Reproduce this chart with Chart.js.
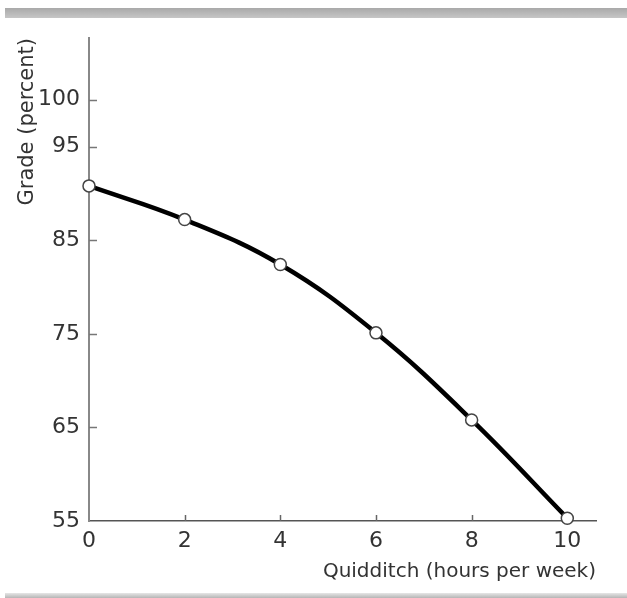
<!DOCTYPE html>
<html>
<head>
<meta charset="utf-8">
<script src="https://cdn.jsdelivr.net/npm/chart.js@4/dist/chart.umd.min.js"></script>
<style>
  body { margin: 0; background: #fff; }
  #wrap { position: relative; width: 627px; height: 598px; overflow: hidden; }
  #myChart { position: absolute; left: 0; top: 0; }
  .topBar { position: absolute; left: 5px; top: 8px; width: 622px; height: 10px;
    background: linear-gradient(#a9a9a9, #c6c6c6); }
  .bottomBar { position: absolute; left: 5px; top: 593px; width: 622px; height: 5px;
    background: linear-gradient(#e6e6e6, #b5b5b5); }
</style>
</head>
<body>
<div id="wrap">
  <canvas id="myChart" width="627" height="598"></canvas>
  <div class="topBar"></div>
  <div class="bottomBar"></div>
</div>
<script>
// the data
const hours = [0, 2, 4, 6, 8, 10]
const grades = [90.8, 87.2, 82.4, 75.1, 65.8, 55.3]
const xTicks = [0, 2, 4, 6, 8, 10]
const yTicks = [55, 65, 75, 85, 95, 100]

const fontName = '"DejaVu Sans", sans-serif'

// small tick marks that point inside the plot
const innerTicks = {
  id: 'innerTicks',
  beforeDatasetsDraw(chart) {
    const ctx = chart.ctx
    const x = chart.scales.x
    const y = chart.scales.y
    ctx.save()
    ctx.lineWidth = 1.5
    ctx.strokeStyle = '#777'
    yTicks.forEach(v => {
      if (v == 55) return
      let py = Math.round(y.getPixelForValue(v)) + 0.5
      ctx.beginPath()
      ctx.moveTo(x.left, py)
      ctx.lineTo(x.left + 8, py)
      ctx.stroke()
    })
    ctx.strokeStyle = '#666'
    xTicks.forEach(v => {
      if (v == 0) return
      let px = Math.round(x.getPixelForValue(v)) + 0.5
      ctx.beginPath()
      ctx.moveTo(px, y.bottom)
      ctx.lineTo(px, y.bottom - 6)
      ctx.stroke()
    })
    ctx.restore()
  }
}

new Chart('myChart', {
  type: 'line',
  data: {
    datasets: [{
      data: hours.map((h, i) => ({x: h, y: grades[i]})),
      borderColor: '#000',
      borderWidth: 4.5,
      tension: 0.4,
      clip: false,
      pointRadius: 6,
      pointBackgroundColor: '#fff',
      pointBorderColor: '#444',
      pointBorderWidth: 1.5
    }]
  },
  options: {
    responsive: false,
    animation: false,
    layout: {padding: {top: 38, right: 31, bottom: 0, left: 0}},
    plugins: {legend: {display: false}, title: {display: false}, tooltip: {enabled: false}},
    scales: {
      x: {
        type: 'linear',
        min: 0,
        max: 10.6,
        afterBuildTicks: scale => { scale.ticks = xTicks.map(v => ({value: v})) },
        afterFit: scale => { scale.height = 77 },
        grid: {display: false, drawTicks: false},
        border: {display: true, color: '#555', width: 1.5},
        ticks: {color: '#333', padding: 7, font: {family: fontName, size: 22}},
        title: {
          display: true,
          text: 'Quidditch (hours per week)',
          align: 'end',
          color: '#333',
          padding: {top: 0, bottom: 14},
          font: {family: fontName, size: 20}
        }
      },
      y: {
        type: 'linear',
        min: 55,
        max: 106.6,
        afterBuildTicks: scale => { scale.ticks = yTicks.map(v => ({value: v})) },
        afterFit: scale => { scale.width = 89 },
        grid: {display: false, drawTicks: false},
        border: {display: true, color: '#888', width: 2},
        ticks: {color: '#333', padding: 9, font: {family: fontName, size: 22}},
        title: {
          display: true,
          text: 'Grade (percent)',
          align: 'end',
          color: '#333',
          padding: {top: 15, bottom: 0},
          font: {family: fontName, size: 21}
        }
      }
    }
  },
  plugins: [innerTicks]
})
</script>
</body>
</html>
